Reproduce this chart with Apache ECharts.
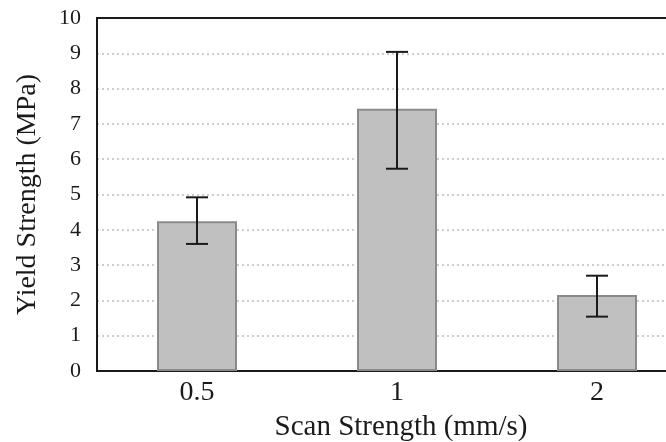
<!DOCTYPE html>
<html>
<head>
<meta charset="utf-8">
<script src="https://cdn.jsdelivr.net/npm/echarts@6/dist/echarts.min.js"></script>
<style>html,body{margin:0;padding:0;background:#fff;overflow:hidden;width:666px;height:442px;}#c{width:699px;height:442px;}</style>
</head>
<body>
<div id="c"></div>
<script>
var categories = ['0.5', '1', '2'];
var means = [4.24, 7.43, 2.15];
var lower = [3.6, 5.73, 1.54];
var upper = [4.92, 9.04, 2.70];
var yTicks = [0, 1, 2, 3, 4, 5, 6, 7, 8, 9, 10];

var chart = echarts.init(document.getElementById('c'));
var serif = '"Liberation Serif", "Times New Roman", serif';
var errData = categories.map(function (c, i) { return [i, lower[i], upper[i]]; });

chart.setOption({
  animation: false,
  backgroundColor: '#fff',
  grid: { left: 97, top: 18, width: 600, height: 353, outerBoundsMode: 'none', containLabel: false, show: true, borderColor: '#1a1a1a', borderWidth: 2, backgroundColor: 'transparent' },
  xAxis: {
    type: 'category',
    data: categories,
    name: 'Scan Strength (mm/s)',
    nameLocation: 'middle',
    nameGap: 42,
    nameTextStyle: { fontFamily: serif, fontSize: 29, color: '#1a1a1a', padding: [0, 0, 0, 8] },
    axisLine: { lineStyle: { color: '#1a1a1a', width: 2 } },
    axisTick: { show: false },
    axisLabel: { fontFamily: serif, fontSize: 28, color: '#1a1a1a', margin: 8 }
  },
  yAxis: {
    type: 'value',
    min: yTicks[0],
    max: yTicks[yTicks.length - 1],
    interval: 1,
    name: 'Yield Strength (MPa)',
    nameLocation: 'middle',
    nameGap: 55,
    nameRotate: 90,
    nameTextStyle: { fontFamily: serif, fontSize: 28, color: '#1a1a1a' },
    axisLine: { show: true, lineStyle: { color: '#1a1a1a', width: 2 } },
    axisTick: { show: false },
    axisLabel: { fontFamily: serif, fontSize: 22, color: '#1a1a1a', margin: 16 },
    splitLine: { show: true, showMinLine: false, showMaxLine: false, lineStyle: { color: '#bdbdbd', type: [2, 3], width: 1.5 } }
  },
  series: [
    {
      type: 'bar',
      data: means,
      barWidth: '40%',
      itemStyle: { color: '#c0c0c0', borderColor: '#8a8a8a', borderWidth: 2 }
    },
    {
      type: 'custom',
      data: errData,
      z: 10,
      renderItem: function (params, api) {
        var x = api.value(0);
        var lo = api.coord([x, api.value(1)]);
        var hi = api.coord([x, api.value(2)]);
        var hw = 11;
        var st = { stroke: '#1a1a1a', lineWidth: 2 };
        return {
          type: 'group',
          children: [
            { type: 'line', shape: { x1: hi[0], y1: hi[1], x2: lo[0], y2: lo[1] }, style: st },
            { type: 'line', shape: { x1: hi[0] - hw, y1: hi[1], x2: hi[0] + hw, y2: hi[1] }, style: st },
            { type: 'line', shape: { x1: lo[0] - hw, y1: lo[1], x2: lo[0] + hw, y2: lo[1] }, style: st }
          ]
        };
      }
    }
  ]
});
</script>
</body>
</html>
